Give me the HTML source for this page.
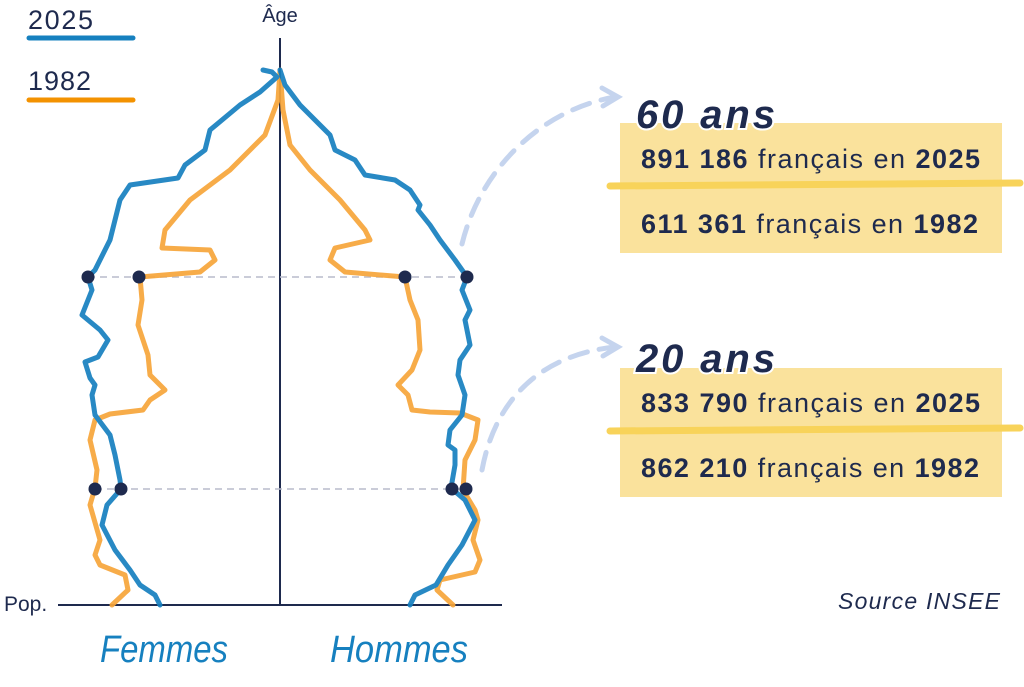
<!DOCTYPE html>
<html><head><meta charset="utf-8"><style>
body{margin:0;background:#fff;}
svg{display:block;}
.t{font-family:"Liberation Sans",sans-serif;fill:#1e2a4e;}
</style></head><body>
<svg width="1024" height="687" viewBox="0 0 1024 687" xmlns="http://www.w3.org/2000/svg">
<text x="28" y="29" class="t" font-size="27" textLength="65">2025</text>
<line x1="29" y1="38" x2="133" y2="38" stroke="#1680bf" stroke-width="5" stroke-linecap="round"/>
<text x="28" y="90" class="t" font-size="27" textLength="63">1982</text>
<line x1="29" y1="100" x2="133" y2="100" stroke="#f39200" stroke-width="5" stroke-linecap="round"/>
<text x="280" y="22" class="t" font-size="20" text-anchor="middle">Âge</text>
<text x="4" y="611" class="t" font-size="21">Pop.</text>
<text x="838" y="609" class="t" font-size="23" font-style="italic" fill="#333" textLength="162">Source INSEE</text>
<line x1="280" y1="38" x2="280" y2="605" stroke="#1e2a4e" stroke-width="2"/>
<line x1="58" y1="605" x2="502" y2="605" stroke="#1e2a4e" stroke-width="2"/>
<line x1="88" y1="277" x2="467" y2="277" stroke="#b8bccc" stroke-width="1.5" stroke-dasharray="7,5"/>
<line x1="95" y1="489" x2="466" y2="489" stroke="#b8bccc" stroke-width="1.5" stroke-dasharray="7,5"/>
<g fill="none" stroke-width="5" stroke-linejoin="round" stroke-linecap="round" opacity="0.92">
<polyline stroke="#f7a53a" points="280,70 278,100 265,135 230,170 190,200 165,230 162,248 210,250 215,260 200,272 140,277 142,300 138,325 148,355 150,375 165,390 150,400 143,410 110,414 95,420 90,440 97,470 95,488 90,505 100,540 95,555 100,565 125,575 128,590 112,605"/>
<polyline stroke="#f7a53a" points="280,70 283,110 290,145 310,170 340,200 365,230 370,240 335,248 330,260 345,272 405,277 410,300 418,320 420,350 412,370 398,385 408,395 412,410 430,412 460,413 478,420 475,440 465,460 463,490 475,510 478,520 473,540 480,560 475,572 440,580 437,590 453,605"/>
<polyline stroke="#1680bf" points="263,70 272,72 277,77 260,92 240,105 210,130 205,150 185,165 178,178 130,185 120,200 110,240 95,270 88,277 92,290 82,315 100,330 108,340 98,357 85,362 90,378 95,385 92,395 95,415 110,435 115,455 120,480 121,489 107,505 102,525 115,550 130,570 140,585 155,595 160,605"/>
<polyline stroke="#1680bf" points="280,70 285,85 300,105 330,135 335,150 355,160 365,175 395,180 410,190 420,205 418,210 430,225 440,240 455,260 467,277 462,290 470,310 465,320 470,345 460,360 458,375 465,395 462,415 450,430 448,445 455,450 455,465 451,488 465,500 475,520 462,545 448,565 436,585 415,595 410,605"/>
</g>
<g fill="#1e2a4e">
<circle cx="88" cy="277" r="6.5"/><circle cx="139" cy="277" r="6.5"/><circle cx="405" cy="277" r="6.5"/><circle cx="467" cy="277" r="6.5"/>
<circle cx="95" cy="489" r="6.5"/><circle cx="121" cy="489" r="6.5"/><circle cx="452" cy="489" r="6.5"/><circle cx="466" cy="489" r="6.5"/>
</g>
<text x="100" y="662" font-family="'Liberation Sans',sans-serif" font-style="italic" font-size="38" fill="#1680bf" textLength="128" lengthAdjust="spacingAndGlyphs">Femmes</text>
<text x="330" y="662" font-family="'Liberation Sans',sans-serif" font-style="italic" font-size="38" fill="#1680bf" textLength="138" lengthAdjust="spacingAndGlyphs">Hommes</text>
<g fill="none" stroke="#c5d4ee" stroke-width="5" stroke-linecap="round">
<path d="M462,244 C480,170 540,110 615,97" stroke-dasharray="18,12"/>
<path d="M602,88 L618,97 L603,106"/>
<path d="M482,470 C495,400 540,355 615,347" stroke-dasharray="18,12"/>
<path d="M602,338 L618,347 L603,356"/>
</g>
<rect x="620" y="123" width="382" height="130" fill="#fae29c"/>
<path d="M610,186 L1020,183" stroke="#f8d35a" stroke-width="7" stroke-linecap="round"/>
<rect x="620" y="368" width="382" height="129" fill="#fae29c"/>
<path d="M610,431 L1020,428" stroke="#f8d35a" stroke-width="7" stroke-linecap="round"/>
<text x="636" y="128" font-family="'Liberation Sans',sans-serif" font-style="italic" font-weight="bold" font-size="40" fill="#1e2a4e" stroke="#fff" stroke-width="4" paint-order="stroke" textLength="139">60 ans</text>
<text x="636" y="372" font-family="'Liberation Sans',sans-serif" font-style="italic" font-weight="bold" font-size="40" fill="#1e2a4e" stroke="#fff" stroke-width="4" paint-order="stroke" textLength="139">20 ans</text>
<g class="t" font-size="27">
<text x="641" y="168" textLength="339"><tspan font-weight="bold">891 186</tspan> français en <tspan font-weight="bold">2025</tspan></text>
<text x="641" y="233" textLength="337"><tspan font-weight="bold">611 361</tspan> français en <tspan font-weight="bold">1982</tspan></text>
<text x="641" y="412" textLength="339"><tspan font-weight="bold">833 790</tspan> français en <tspan font-weight="bold">2025</tspan></text>
<text x="641" y="477" textLength="338"><tspan font-weight="bold">862 210</tspan> français en <tspan font-weight="bold">1982</tspan></text>
</g>
</svg>
</body></html>
